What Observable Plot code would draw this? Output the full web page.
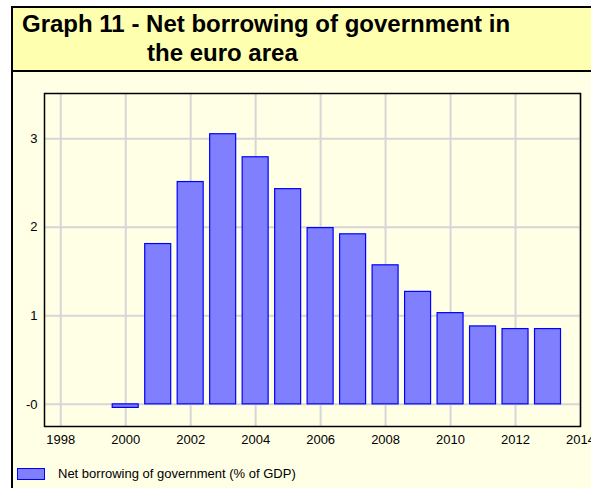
<!DOCTYPE html>
<html>
<head>
<meta charset="utf-8">
<script src="https://cdn.jsdelivr.net/npm/d3@7"></script>
<script src="https://cdn.jsdelivr.net/npm/@observablehq/plot@0.6"></script>
<style>
  html, body { margin: 0; padding: 0; background: #ffffff; width: 591px; height: 488px; overflow: hidden; }
  body { position: relative; font-family: "Liberation Sans", Arial, Helvetica, sans-serif; }
  #frame { position: absolute; left: 11px; top: 6px; width: 620px; height: 520px;
           border-left: 2px solid #000; border-top: 2px solid #000; background: #ffffe6; }
  #title { position: absolute; left: 13px; top: 8px; width: 620px; height: 61.5px;
           background: #ffffb0; border-bottom: 2px solid #000; }
  #title div { position: absolute; font-weight: bold; font-size: 24px; line-height: 24px; color: #000; white-space: nowrap; }
  #chart { position: absolute; left: 0; top: 70px; }
  #legend { position: absolute; left: 17px; top: 466px; display: flex; align-items: center; font-size: 13px; color: #000; }
  #legend .sw { width: 26px; height: 10px; background: #8080ff; border: 1px solid #0000ff; margin-right: 13px; }
</style>
</head>
<body>
<div id="frame"></div>
<div id="title">
  <div style="left:9px;top:3.5px">Graph 11 - Net borrowing of government in</div>
  <div style="left:134px;top:32.5px">the euro area</div>
</div>
<div id="chart"></div>
<div id="legend"><div class="sw"></div><span id="legendLabel"></span></div>
<script>
const years  = [2000, 2001, 2002, 2003, 2004, 2005, 2006, 2007, 2008, 2009, 2010, 2011, 2012, 2013];
const values = [-0.04, 1.81, 2.51, 3.05, 2.79, 2.43, 1.99, 1.92, 1.57, 1.27, 1.03, 0.88, 0.85, 0.85];
const xTicks = [1998, 2000, 2002, 2004, 2006, 2008, 2010, 2012, 2014];
const yTicks = [0, 1, 2, 3];
const yTickLabels = ["-0", "1", "2", "3"];
const seriesName = "Net borrowing of government (% of GDP)";

const data = years.map((y, i) => ({year: y, value: values[i]}));
document.getElementById("legendLabel").textContent = seriesName;

const plot = Plot.plot({
  width: 591,
  height: 380,
  marginLeft: 44,
  marginRight: 11,
  marginTop: 23,
  marginBottom: 24,
  style: {background: "transparent", fontFamily: "'Liberation Sans', Arial, Helvetica, sans-serif", fontSize: "13px", color: "#000"},
  x: {domain: [1997.5, 2014], ticks: xTicks, tickFormat: d => String(d), label: null},
  y: {domain: [-0.25, 3.51], ticks: yTicks, tickFormat: d => yTickLabels[yTicks.indexOf(d)], label: null},
  marks: [
    Plot.gridX(xTicks, {stroke: "#d6d6d6", strokeOpacity: 1, strokeWidth: 2}),
    Plot.gridY(yTicks, {stroke: "#d6d6d6", strokeOpacity: 1, strokeWidth: 2}),
    Plot.rectY(data, {x1: d => d.year - 0.4, x2: d => d.year + 0.4, y: "value", fill: "#8080ff", stroke: "#0000ff", strokeWidth: 1.2}),
    Plot.frame({stroke: "#000", strokeWidth: 1.5}),
    Plot.axisX(xTicks, {tickSize: 0, tickPadding: 8, fontSize: 13, tickFormat: d => String(d)}),
    Plot.axisY(yTicks, {tickSize: 0, tickPadding: 7, fontSize: 13, tickFormat: d => yTickLabels[yTicks.indexOf(d)]})
  ]
});
document.getElementById("chart").appendChild(plot);
</script>
</body>
</html>
